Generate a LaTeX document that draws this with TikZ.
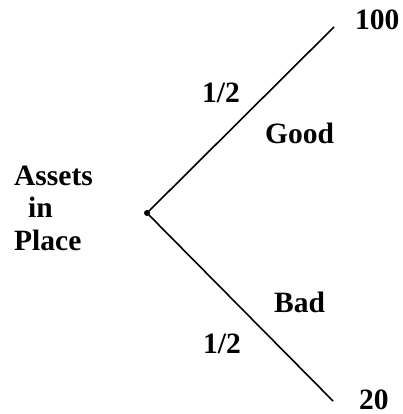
\documentclass[tikz,border=0pt]{standalone}
\usepackage{fontspec}
\setmainfont{Liberation Serif}
\begin{document}
\begin{tikzpicture}[x=1pt,y=-1pt,
  lbl/.style={font=\fontsize{29.5}{33}\selectfont\bfseries, inner sep=0pt, anchor=base west},
  branch/.style={line width=1.6pt, black}]
\useasboundingbox[fill=white] (0,0) rectangle (403,414);
\fill (147,213) circle (3) coordinate (root);
\coordinate (up) at (334,27);
\coordinate (down) at (333,401);
\draw[branch] (root) -- (up);
\draw[branch] (root) -- (down);
\node[lbl] (assets) at (14,185) {Assets};
\node[lbl] (in) at (28,217) {in};
\node[lbl] (place) at (14,250) {Place};
\node[lbl] (v100) at (355,30) {100};
\node[lbl] (v20) at (359,409) {20};
\node[lbl] (p1) at (202,103) {1/2};
\node[lbl] (good) at (265,143) {Good};
\node[lbl] (bad) at (274,312) {Bad};
\node[lbl] (p2) at (203,353) {1/2};
\end{tikzpicture}
\end{document}
